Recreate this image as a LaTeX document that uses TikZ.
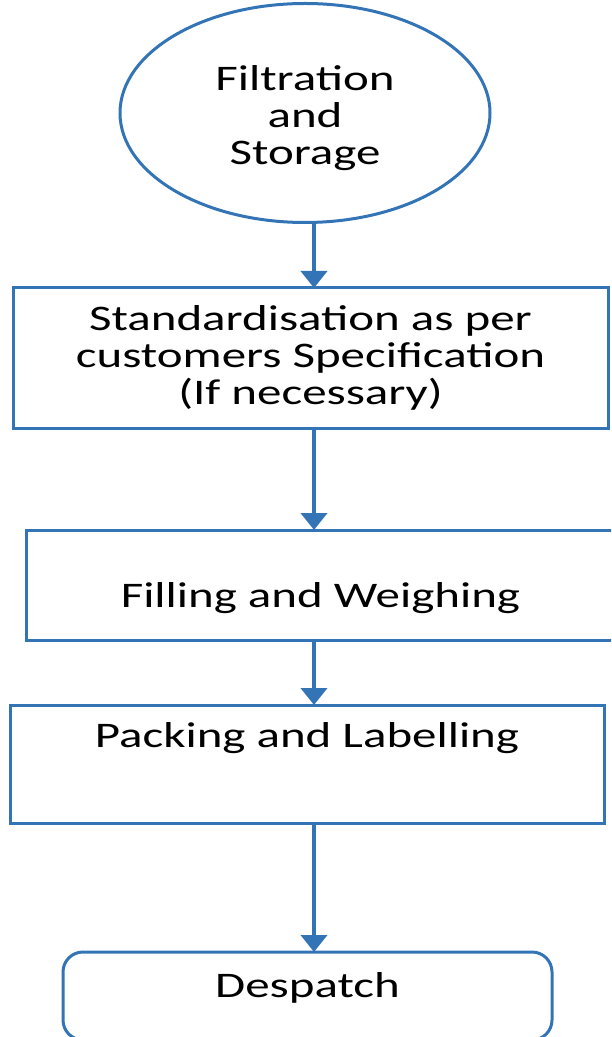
\documentclass[tikz,border=0pt]{standalone}
\usepackage{fontspec}
\setmainfont{Carlito}[FakeStretch=1.36]
\usetikzlibrary{arrows.meta,shapes.geometric}
\definecolor{flowblue}{RGB}{50,116,181}
\begin{document}
\begin{tikzpicture}[x=0.5pt,y=-0.5pt,line cap=butt,line join=miter,
	every node/.style={font=\fontsize{18}{18.5}\selectfont,text=black,inner sep=0pt,outer sep=0pt},
	every label/.style={align=center},
	stepbox/.style={draw=flowblue,line width=1.5pt,rectangle,align=center},
	flow/.style={draw=flowblue,line width=2pt,-{Triangle[width=13pt,length=8.5pt]}}]
	\useasboundingbox (0,0) rectangle (611,1037);
	\clip (0,0) rectangle (611,1037);
	\coordinate (spine) at (314,0);
	\node[draw=flowblue,line width=1.5pt,ellipse,minimum width=185pt,minimum height=109.5pt,label={[yshift=-2.5pt]center:Filtration\\and\\Storage}] (filt) at (305,113) {};
	\node[stepbox,minimum width=297.5pt,minimum height=70pt] (std) at (310.5,358) {Standardisation as per\\customers Specification\\(If necessary)};
	\node[stepbox,minimum width=294.5pt,minimum height=55pt,label={[yshift=-6.5pt]center:Filling and Weighing}] (fill) at (320.5,585) {};
	\node[stepbox,minimum width=297pt,minimum height=59pt,label={[yshift=13pt]center:Packing and Labelling}] (pack) at (307,764) {};
	\node[stepbox,rounded corners=10pt,minimum width=244.5pt,minimum height=44pt,label={[yshift=4pt]center:Despatch}] (desp) at (307.5,996) {};
	\draw[flow] (filt.south -| spine) -- (std.north -| spine);
	\draw[flow] (std.south -| spine) -- (fill.north -| spine);
	\draw[flow] (fill.south -| spine) -- (pack.north -| spine);
	\draw[flow] (pack.south -| spine) -- (desp.north -| spine);
\end{tikzpicture}
\end{document}
